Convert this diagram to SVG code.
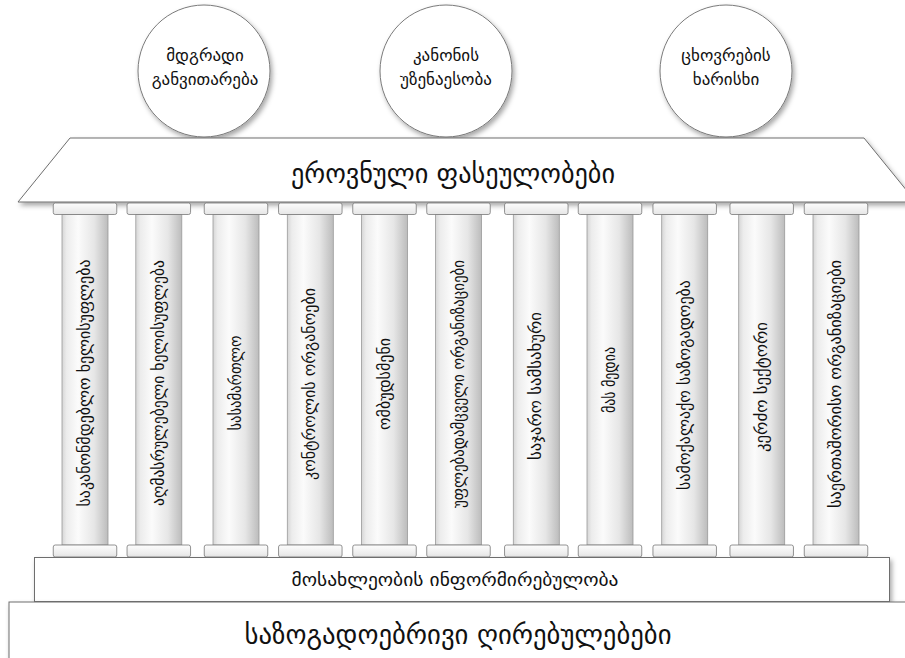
<svg xmlns="http://www.w3.org/2000/svg" width="905" height="658" viewBox="0 0 905 658">
<defs>
<filter id="sh" x="-10%" y="-10%" width="130%" height="140%">
<feDropShadow dx="2" dy="3" stdDeviation="2.5" flood-color="#000" flood-opacity="0.35"/>
</filter>
<linearGradient id="shaft" x1="0" y1="0" x2="1" y2="0">
<stop offset="0" stop-color="#d6d6d6"/>
<stop offset="0.1" stop-color="#ececec"/>
<stop offset="0.35" stop-color="#fbfbfb"/>
<stop offset="0.7" stop-color="#e6e6e6"/>
<stop offset="1" stop-color="#bcbcbc"/>
</linearGradient>
<linearGradient id="cap" x1="0" y1="0" x2="0" y2="1">
<stop offset="0" stop-color="#fdfdfd"/>
<stop offset="1" stop-color="#e6e6e6"/>
</linearGradient>
</defs>
<style>
.t{font-family:"DejaVu Sans","DejaVu Sans Condensed",sans-serif;fill:#111;text-anchor:middle}
.circ{fill:#fff;stroke:#7a7a7a;stroke-width:1}
.plate{fill:#fff;stroke:#6e6e6e;stroke-width:1}
.shaft{fill:url(#shaft);stroke:#9a9a9a;stroke-width:0.8}
.cap{fill:url(#cap);stroke:#777;stroke-width:0.8}
.ct{font-size:17px}
.pt{font-size:16px}
</style>
<rect width="905" height="658" fill="#fff"/>

<g id="circle1">
<circle class="circ" cx="204" cy="71" r="66" filter="url(#sh)"/>
<text class="t ct" x="205" y="61">მდგრადი</text>
<text class="t ct" x="205" y="85">განვითარება</text>
</g>
<g id="circle2">
<circle class="circ" cx="446" cy="71" r="66" filter="url(#sh)"/>
<text class="t ct" x="446" y="61">კანონის</text>
<text class="t ct" x="446" y="85">უზენაესობა</text>
</g>
<g id="circle3">
<circle class="circ" cx="726" cy="71" r="66" filter="url(#sh)"/>
<text class="t ct" x="726" y="61">ცხოვრების</text>
<text class="t ct" x="726" y="85">ხარისხი</text>
</g>

<g id="roof">
<polygon class="plate" points="70,138 864,138 916,202 18,202" filter="url(#sh)"/>
<text class="t" x="453" y="183" font-size="28" textLength="324" lengthAdjust="spacingAndGlyphs">ეროვნული ფასეულობები</text>
</g>

<g id="col1">
<rect class="shaft" x="62" y="214.5" width="46" height="330.5"/>
<rect class="cap" x="53.25" y="203" width="63.5" height="11.5" rx="2"/>
<rect class="cap" x="53.25" y="545" width="63.5" height="12" rx="2"/>
<text class="t pt" transform="translate(85,383) rotate(-90)" dy="5" textLength="247" lengthAdjust="spacingAndGlyphs">საკანონმდებლო ხელისუფლება</text>
</g>
<g id="col2">
<rect class="shaft" x="135.8" y="214.5" width="46" height="330.5"/>
<rect class="cap" x="127.05" y="203" width="63.5" height="11.5" rx="2"/>
<rect class="cap" x="127.05" y="545" width="63.5" height="12" rx="2"/>
<text class="t pt" transform="translate(158.8,383) rotate(-90)" dy="5" textLength="246" lengthAdjust="spacingAndGlyphs">აღმასრულებელი ხელისუფლება</text>
</g>
<g id="col3">
<rect class="shaft" x="213" y="214.5" width="46" height="330.5"/>
<rect class="cap" x="204.25" y="203" width="63.5" height="11.5" rx="2"/>
<rect class="cap" x="204.25" y="545" width="63.5" height="12" rx="2"/>
<text class="t pt" transform="translate(236,383) rotate(-90)" dy="5" textLength="95" lengthAdjust="spacingAndGlyphs">სასამართლო</text>
</g>
<g id="col4">
<rect class="shaft" x="287.3" y="214.5" width="46" height="330.5"/>
<rect class="cap" x="278.55" y="203" width="63.5" height="11.5" rx="2"/>
<rect class="cap" x="278.55" y="545" width="63.5" height="12" rx="2"/>
<text class="t pt" transform="translate(310.3,384) rotate(-90)" dy="5" textLength="192" lengthAdjust="spacingAndGlyphs">კონტროლის ორგანოები</text>
</g>
<g id="col5">
<rect class="shaft" x="361.5" y="214.5" width="46" height="330.5"/>
<rect class="cap" x="352.75" y="203" width="63.5" height="11.5" rx="2"/>
<rect class="cap" x="352.75" y="545" width="63.5" height="12" rx="2"/>
<text class="t pt" transform="translate(384.5,384) rotate(-90)" dy="5" textLength="92" lengthAdjust="spacingAndGlyphs">ომბუდსმენი</text>
</g>
<g id="col6">
<rect class="shaft" x="435.5" y="214.5" width="46" height="330.5"/>
<rect class="cap" x="426.75" y="203" width="63.5" height="11.5" rx="2"/>
<rect class="cap" x="426.75" y="545" width="63.5" height="12" rx="2"/>
<text class="t pt" transform="translate(458.5,384) rotate(-90)" dy="5" textLength="248" lengthAdjust="spacingAndGlyphs">უფლებადამცველი ორგანიზაციები</text>
</g>
<g id="col7">
<rect class="shaft" x="513.3" y="214.5" width="46" height="330.5"/>
<rect class="cap" x="504.55" y="203" width="63.5" height="11.5" rx="2"/>
<rect class="cap" x="504.55" y="545" width="63.5" height="12" rx="2"/>
<text class="t pt" transform="translate(536.3,386) rotate(-90)" dy="5" textLength="148" lengthAdjust="spacingAndGlyphs">საჯარო სამსახური</text>
</g>
<g id="col8">
<rect class="shaft" x="587" y="214.5" width="46" height="330.5"/>
<rect class="cap" x="578.25" y="203" width="63.5" height="11.5" rx="2"/>
<rect class="cap" x="578.25" y="545" width="63.5" height="12" rx="2"/>
<text class="t pt" transform="translate(610,380) rotate(-90)" dy="5" textLength="66" lengthAdjust="spacingAndGlyphs">მას მედია</text>
</g>
<g id="col9">
<rect class="shaft" x="661.7" y="214.5" width="46" height="330.5"/>
<rect class="cap" x="652.95" y="203" width="63.5" height="11.5" rx="2"/>
<rect class="cap" x="652.95" y="545" width="63.5" height="12" rx="2"/>
<text class="t pt" transform="translate(684.7,385) rotate(-90)" dy="5" textLength="210" lengthAdjust="spacingAndGlyphs">სამოქალაქო საზოგადოება</text>
</g>
<g id="col10">
<rect class="shaft" x="738.7" y="214.5" width="46" height="330.5"/>
<rect class="cap" x="729.95" y="203" width="63.5" height="11.5" rx="2"/>
<rect class="cap" x="729.95" y="545" width="63.5" height="12" rx="2"/>
<text class="t pt" transform="translate(761.7,387) rotate(-90)" dy="5" textLength="130" lengthAdjust="spacingAndGlyphs">კერძო სექტორი</text>
</g>
<g id="col11">
<rect class="shaft" x="813" y="214.5" width="46" height="330.5"/>
<rect class="cap" x="804.25" y="203" width="63.5" height="11.5" rx="2"/>
<rect class="cap" x="804.25" y="545" width="63.5" height="12" rx="2"/>
<text class="t pt" transform="translate(836,384) rotate(-90)" dy="5" textLength="248" lengthAdjust="spacingAndGlyphs">საერთაშორისო ორგანიზაციები</text>
</g>

<g id="plate-info">
<rect class="plate" x="34.5" y="557.5" width="855" height="44" filter="url(#sh)"/>
<text class="t" x="455" y="586" font-size="18" textLength="327" lengthAdjust="spacingAndGlyphs">მოსახლეობის ინფორმირებულობა</text>
</g>
<g id="plate-base">
<rect class="plate" x="9" y="602" width="920" height="80" filter="url(#sh)"/>
<text class="t" x="458" y="644" font-size="28" textLength="427" lengthAdjust="spacingAndGlyphs">საზოგადოებრივი ღირებულებები</text>
</g>
</svg>
